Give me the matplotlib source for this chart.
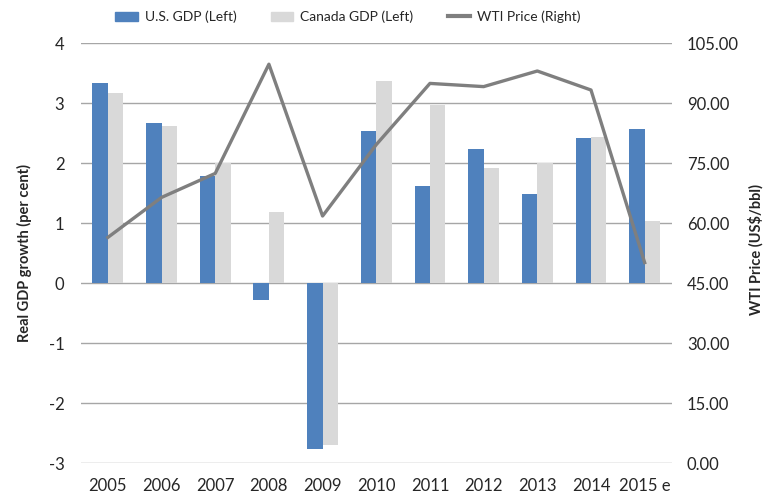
import matplotlib.pyplot as plt
import numpy as np
from matplotlib.patches import Patch
from matplotlib.lines import Line2D

plt.rcParams['font.family'] = ['Lato', 'DejaVu Sans']
plt.rcParams['axes.unicode_minus'] = False

# Data
years = ['2005', '2006', '2007', '2008', '2009', '2010', '2011', '2012', '2013', '2014', '2015 e']
us_gdp = [3.34, 2.66, 1.78, -0.28, -2.77, 2.53, 1.61, 2.23, 1.49, 2.42, 2.56]
canada_gdp = [3.16, 2.62, 2.00, 1.18, -2.70, 3.37, 2.96, 1.92, 2.00, 2.44, 1.04]
wti_price = [56.4, 66.4, 72.4, 99.7, 61.75, 79.6, 94.9, 94.1, 98.0, 93.25, 50.1]

blue = '#4F81BD'
light = '#D9D9D9'
line_col = '#7F7F7F'
text_col = '#262626'

fig = plt.figure(figsize=(7.65, 4.99), dpi=100)
ax = fig.add_axes([0.1059, 0.0721, 0.7719, 0.8417])

x = np.arange(len(years))
w = 0.287
ax.bar(x - w / 2, us_gdp, width=w, color=blue, zorder=2)
ax.bar(x + w / 2, canada_gdp, width=w, color=light, zorder=2)

ax.set_xlim(-0.5, len(years) - 0.5)
ax.set_ylim(-3, 4)
ax.set_yticks(range(-3, 5))
ax.grid(axis='y', color='#A6A6A6', linewidth=1, zorder=0)
for s in ax.spines.values():
    s.set_visible(False)
ax.set_xticks(x)
ax.set_xticklabels(years)
ax.tick_params(axis='both', length=0, labelsize=12, colors=text_col)
ax.tick_params(axis='x', pad=11)
ax.tick_params(axis='y', pad=12)
ax.set_ylabel('Real GDP growth (per cent)', fontsize=10.5, fontweight='bold', color=text_col, labelpad=12)

ax2 = ax.twinx()
ax2.plot(x, wti_price, color=line_col, linewidth=2.4, zorder=3)
ax2.set_ylim(0, 105)
ax2.set_yticks(np.arange(0, 106, 15))
ax2.set_yticklabels(['%.2f' % v for v in np.arange(0, 106, 15)])
for s in ax2.spines.values():
    s.set_visible(False)
ax2.tick_params(axis='y', length=0, labelsize=12, colors=text_col, pad=11)
fig.text(0.988, 0.5, 'WTI Price (US$/bbl)', rotation=90, ha='center', va='center',
         fontsize=10.5, fontweight='bold', color=text_col)

handles = [Patch(color=blue), Patch(color=light), Line2D([0], [0], color=line_col, linewidth=3)]
labels = ['U.S. GDP (Left)', 'Canada GDP (Left)', 'WTI Price (Right)']
fig.legend(handles, labels, loc='center', bbox_to_anchor=(0.455, 0.966), ncol=3, frameon=False,
           fontsize=10, handlelength=1.6, handleheight=0.7, columnspacing=2.5, handletextpad=0.5,
           labelcolor=text_col)

fig.savefig('out.png', dpi=100)
